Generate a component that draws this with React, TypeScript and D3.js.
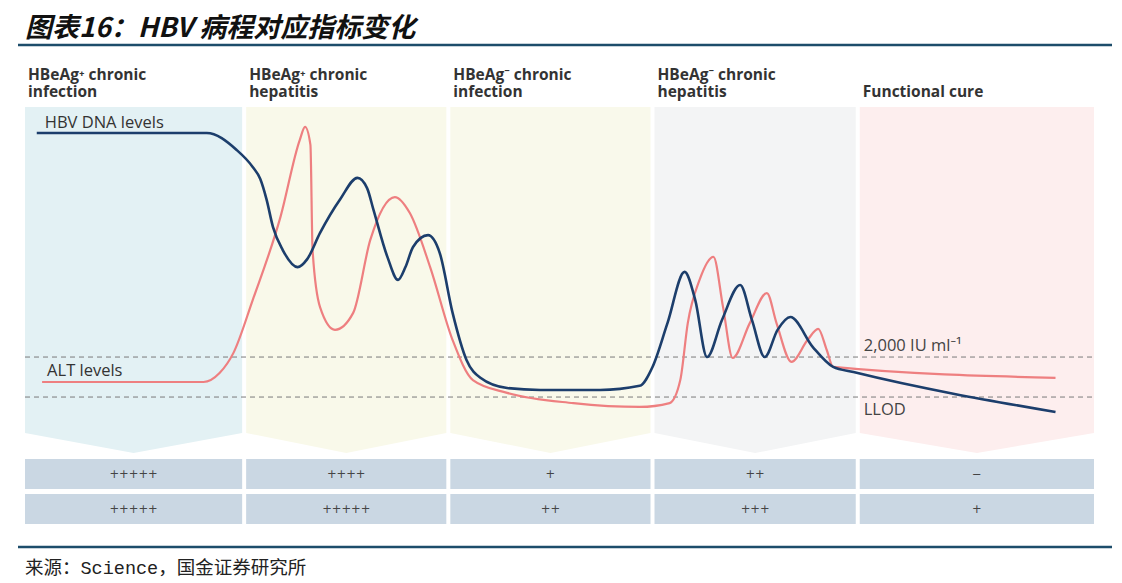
import { useMemo } from 'react';
import * as d3 from 'd3';

// stage headers (two lines each, empty first line where the label is one line)
const stageLine1 = ['HBeAg⁺ chronic', 'HBeAg⁺ chronic', 'HBeAg⁻ chronic', 'HBeAg⁻ chronic', ''];
const stageLine2 = ['infection', 'hepatitis', 'infection', 'hepatitis', 'Functional cure'];
// stage boundaries on the time axis (0-100)
const stageBounds = [0, 20.5, 39.6, 58.7, 77.9, 100];
const stageColors = ['#e3f1f4', '#f9f9ea', '#f9f9eb', '#f3f4f5', '#fdeeee'];

// table rows under the stages
const rowA = ['+++++', '++++', '+', '++', '−'];
const rowB = ['+++++', '+++++', '++', '+++', '+'];

// HBV DNA curve, [time, level]
const dnaPoints: [number, number][] = [
  [1.1, 92.8], [17.0, 92.8], [19.8, 87.5], [21.3, 82.2], [22.0, 78.5], [22.6, 72.0],
  [23.2, 63.4], [24.1, 56.3], [25.5, 50.9], [26.4, 53.4], [27.6, 61.6], [29.5, 72.2],
  [31.1, 78.8], [32.0, 75.6], [32.6, 68.8], [33.9, 54.1], [34.9, 46.9], [35.6, 51.0],
  [36.3, 57.2], [37.7, 60.9], [38.8, 55.3], [40.0, 36.6], [41.3, 21.9], [42.6, 16.3],
  [45.1, 13.1], [48.2, 12.5], [53.8, 12.5], [57.5, 13.8], [58.7, 19.7], [60.1, 33.4],
  [61.7, 49.4], [62.7, 40.6], [63.8, 22.8], [65.2, 34.4], [66.9, 45.3], [68.0, 34.4],
  [69.2, 22.8], [70.4, 31.3], [71.6, 35.3], [73.7, 25.9], [75.6, 19.7], [77.5, 18.1],
  [96.4, 5.6],
];

// ALT curve, [time, level]
const altPoints: [number, number][] = [
  [1.6, 15.0], [16.7, 15.0], [18.2, 17.8], [19.5, 24.1], [21.3, 40.6], [23.9, 66.6],
  [25.7, 90.6], [26.2, 94.7], [26.7, 89.1], [26.9, 56.3], [27.6, 38.4], [29.0, 31.3],
  [30.7, 36.6], [32.3, 59.4], [34.6, 72.8], [36.0, 67.8], [37.9, 50.9], [40.0, 28.1],
  [41.9, 15.6], [45.1, 11.6], [51.3, 8.4], [57.5, 7.2], [60.3, 8.4], [61.3, 15.6],
  [62.0, 33.4], [63.1, 46.9], [64.4, 54.1], [65.3, 38.4], [66.2, 22.5], [67.8, 33.4],
  [69.4, 42.8], [70.3, 33.4], [71.7, 21.3], [73.2, 28.1], [74.2, 31.6], [75.0, 25.0],
  [75.6, 19.7], [96.4, 16.3],
];

// reference thresholds
const thresholdLabels = ['2,000 IU ml⁻¹', 'LLOD'];
const thresholdLevels = [22.8, 10.3];

const W = 1122;
const H = 583;
const SANS = "'Open Sans', 'Noto Sans', sans-serif";

export default function App() {
  const x = useMemo(() => d3.scaleLinear().domain([0, 100]).range([25, 1094]), []);
  const y = useMemo(() => d3.scaleLinear().domain([0, 100]).range([430, 110]), []);

  const line = useMemo(
    () =>
      d3
        .line<[number, number]>()
        .x((d) => x(d[0]))
        .y((d) => y(d[1]))
        .curve(d3.curveMonotoneX),
    [x, y]
  );

  const panelTop = 107;
  const panelBottom = 433;
  const panelTip = 453;
  const gap = 2;

  const stages = stageLine2.map((_, i) => {
    const x0 = x(stageBounds[i]) + (i === 0 ? 0 : gap);
    const x1 = x(stageBounds[i + 1]) - (i === stageLine2.length - 1 ? 0 : gap);
    return { i, x0, x1, mid: (x0 + x1) / 2 };
  });

  const rows = [rowA, rowB];
  const rowTop = [459, 494];
  const rowH = 30;
  const labelX = x(stageBounds[4]) + 6;

  return (
    <div style={{ position: 'absolute', left: 0, top: 0 }}>
      <svg width={W} height={H} style={{ display: 'block', background: '#fff' }}>
        {/* title */}
        <text
          x={25}
          y={37}
          fontFamily="'Noto Sans CJK SC', sans-serif"
          fontSize={27}
          fontWeight={700}
          fontStyle="italic"
          fill="#111"
        >
          图表16：HBV 病程对应指标变化
        </text>
        <line x1={18} x2={1112} y1={45} y2={45} stroke="#1d4d6b" strokeWidth={2.5} />

        {/* stage panels */}
        {stages.map((s) => (
          <path
            key={`p${s.i}`}
            d={`M${s.x0},${panelTop}H${s.x1}V${panelBottom}L${s.mid},${panelTip}L${s.x0},${panelBottom}Z`}
            fill={stageColors[s.i]}
          />
        ))}

        {/* stage headers */}
        {stages.map((s) => (
          <g key={`h${s.i}`} fontFamily={SANS} fontWeight={700} fontSize={15.5} fill="#333">
            <text x={s.x0 + 3} y={80}>{stageLine1[s.i]}</text>
            <text x={s.x0 + 3} y={97}>{stageLine2[s.i]}</text>
          </g>
        ))}

        {/* thresholds */}
        {thresholdLevels.map((lv, i) => (
          <g key={`t${i}`}>
            <line
              x1={x(0)}
              x2={x(100)}
              y1={y(lv)}
              y2={y(lv)}
              stroke="#7a7a7a"
              strokeWidth={1}
              strokeDasharray="5,4"
            />
            <text
              x={labelX}
              y={i === 0 ? y(lv) - 6 : y(lv) + 18}
              fontFamily={SANS}
              fontSize={16.5}
              fill="#444"
            >
              {thresholdLabels[i]}
            </text>
          </g>
        ))}

        {/* curves */}
        <path d={line(altPoints) ?? ''} fill="none" stroke="#ee7f80" strokeWidth={2.2} />
        <path d={line(dnaPoints) ?? ''} fill="none" stroke="#1c3e6c" strokeWidth={2.6} />

        {/* series labels */}
        <text x={x(dnaPoints[0][0]) + 8} y={y(dnaPoints[0][1]) - 5} fontFamily={SANS} fontSize={16.5} fill="#333">
          HBV DNA levels
        </text>
        <text x={x(altPoints[0][0]) + 5} y={y(altPoints[0][1]) - 6} fontFamily={SANS} fontSize={16.5} fill="#333">
          ALT levels
        </text>

        {/* table */}
        {rows.map((row, r) =>
          stages.map((s) => (
            <g key={`c${r}-${s.i}`}>
              <rect x={s.x0} y={rowTop[r]} width={s.x1 - s.x0} height={rowH} fill="#cad7e3" />
              <text
                x={s.mid}
                y={rowTop[r] + rowH / 2}
                dy="0.35em"
                textAnchor="middle"
                fontFamily="'DejaVu Sans', sans-serif"
                fontSize={11.5}
                fill="#444"
              >
                {row[s.i]}
              </text>
            </g>
          ))
        )}

        {/* source */}
        <line x1={18} x2={1112} y1={547} y2={547} stroke="#1d4d6b" strokeWidth={2.5} />
        <text
          x={25}
          y={574}
          fontFamily="'Liberation Mono', 'Noto Sans CJK SC', monospace"
          fontSize={18.5}
          fill="#222"
        >
          来源：Science，国金证券研究所
        </text>
      </svg>
    </div>
  );
}
